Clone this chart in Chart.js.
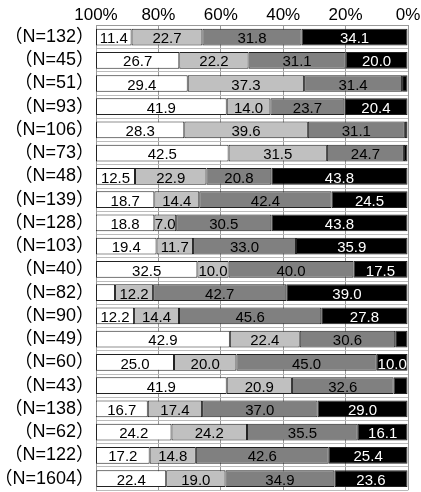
<!DOCTYPE html>
<html>
<head>
<meta charset="utf-8">
<script src="https://cdn.jsdelivr.net/npm/chart.js@4/dist/chart.umd.min.js"></script>
<style>
  html, body { margin: 0; padding: 0; background: #fff; overflow: hidden; }
  #wrap { width: 421px; height: 503px; }
</style>
</head>
<body>
<div id="wrap"><canvas id="chart" width="421" height="503"></canvas></div>
<script>
// ── Datos ────────────────────────────────────────────────────────
const GRUPOS = [
  "（N=132）","（N=45）","（N=51）","（N=93）","（N=106）",
  "（N=73）","（N=48）","（N=139）","（N=128）","（N=103）",
  "（N=40）","（N=82）","（N=90）","（N=49）","（N=60）",
  "（N=43）","（N=138）","（N=62）","（N=122）","（N=1604）"
];
// de izquierda (100%) a derecha (0%)
const BLANCO = [11.4,26.7,29.4,41.9,28.3,42.5,12.5,18.7,18.8,19.4,32.5,6.1,12.2,42.9,25.0,41.9,16.7,24.2,17.2,22.4];
const CLARO  = [22.7,22.2,37.3,14.0,39.6,31.5,22.9,14.4,7.0,11.7,10.0,12.2,14.4,22.4,20.0,20.9,17.4,24.2,14.8,19.0];
const MEDIO  = [31.8,31.1,31.4,23.7,31.1,24.7,20.8,42.4,30.5,33.0,40.0,42.7,45.6,30.6,45.0,32.6,37.0,35.5,42.6,34.9];
const NEGRO  = [34.1,20.0,1.9,20.4,1.0,1.3,43.8,24.5,43.8,35.9,17.5,39.0,27.8,4.1,10.0,4.6,29.0,16.1,25.4,23.6];
const TICKS_X = [0,20,40,60,80,100];

// ── Etiquetas dentro de las barras ───────────────────────────────
const etiquetas = {
  id: "etiquetas",
  afterDatasetsDraw(chart) {
    const ctx = chart.ctx;
    ctx.save();
    ctx.font = "15px 'Liberation Sans', Arial, sans-serif";
    ctx.textAlign = "center";
    ctx.textBaseline = "middle";
    chart.data.datasets.forEach((ds, i) => {
      chart.getDatasetMeta(i).data.forEach((el, j) => {
        const v = ds.data[j];
        if (v < 6.5) return;
        const c = el.getCenterPoint();
        ctx.fillStyle = ds.labelColor;
        ctx.fillText(v.toFixed(1), c.x, c.y + 2);
      });
    });
    ctx.restore();
  }
};

const serie = (data, color, labelColor) => ({
  data, backgroundColor: color, borderColor: "#222", borderWidth: 1,
  borderSkipped: false, labelColor,
  barPercentage: 0.72, categoryPercentage: 1
});

new Chart(document.getElementById("chart"), {
  type: "bar",
  data: {
    labels: GRUPOS,
    datasets: [
      serie(NEGRO,  "#000000", "#ffffff"),
      serie(MEDIO,  "#808080", "#000000"),
      serie(CLARO,  "#c0c0c0", "#000000"),
      serie(BLANCO, "#ffffff", "#000000"),
    ]
  },
  options: {
    indexAxis: "y",
    responsive: false,
    animation: false,
    layout: { padding: { top: 5, right: 13, bottom: 0, left: 0 } },
    plugins: { legend: { display: false }, tooltip: { enabled: false } },
    scales: {
      x: {
        position: "top",
        stacked: true,
        reverse: true,
        min: 0, max: 100,
        afterBuildTicks: s => { s.ticks = TICKS_X.map(v => ({ value: v })); },
        ticks: {
          callback: v => v + "%",
          color: "#000",
          padding: 0,
          maxRotation: 0,
          font: { family: "'Liberation Sans', Arial, sans-serif", size: 17 }
        },
        grid: { color: "#999", drawTicks: false },
        border: { color: "#999" }
      },
      y: {
        stacked: true,
        afterFit: s => { s.width = 96; },
        ticks: {
          color: "#000",
          padding: 2,
          autoSkip: false,
          font: { family: "'Liberation Sans', Arial, 'Noto Sans CJK JP', sans-serif", size: 18 }
        },
        grid: { color: "#bbb", drawTicks: false, offset: true },
        border: { color: "#999" }
      }
    }
  },
  plugins: [etiquetas]
});
</script>
</body>
</html>
